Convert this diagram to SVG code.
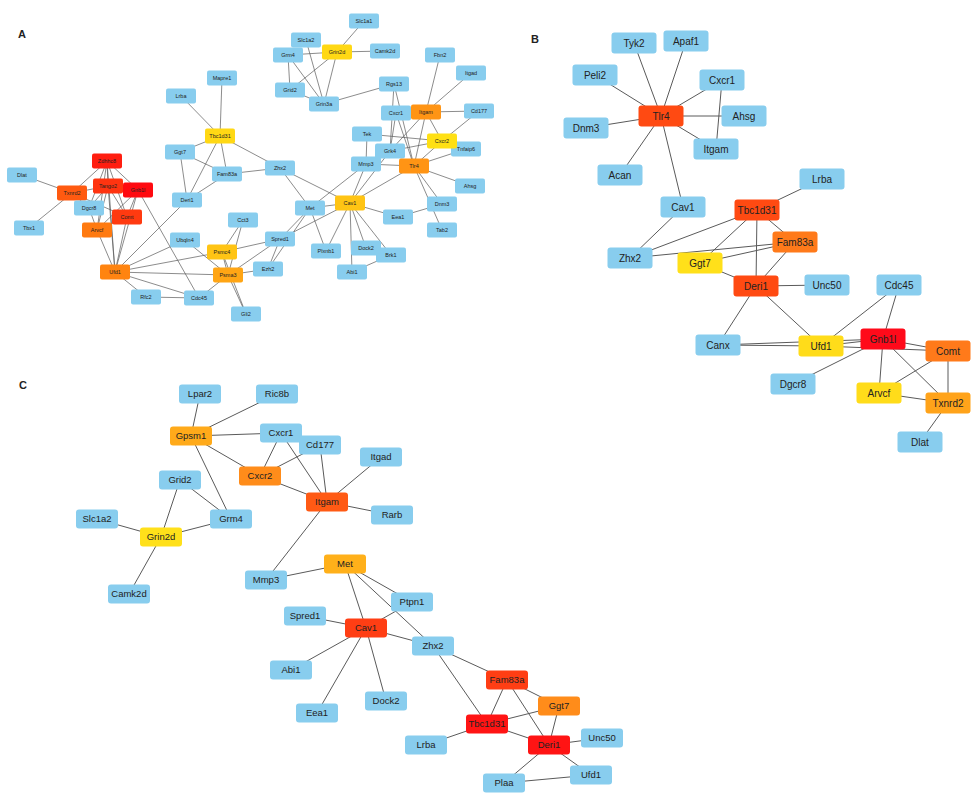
<svg xmlns="http://www.w3.org/2000/svg" width="977" height="795" viewBox="0 0 977 795">
<style>
text{font-family:"Liberation Sans",Arial,sans-serif;fill:#222;text-anchor:middle}
.lbl{font-weight:bold;font-size:11px;text-anchor:start}
.ta{font-size:5.5px}.tb{font-size:10px}.tc{font-size:9.5px}
.e line{stroke:#5a5a5a;stroke-width:1}
.ea line{stroke:#5a5a5a;stroke-width:0.7}
.bl{fill:#88CDEE}
</style>
<rect width="977" height="795" fill="#fff"/>
<text class="lbl" x="18" y="38">A</text>
<text class="lbl" x="531" y="43">B</text>
<text class="lbl" x="19" y="389">C</text>

<!-- Panel A connectors -->
<g id="edges-a" class="ea">
<line x1="364" y1="21" x2="337" y2="52"/><line x1="337" y1="52" x2="288" y2="55"/><line x1="337" y1="52" x2="385" y2="51"/>
<line x1="337" y1="52" x2="290" y2="90"/><line x1="337" y1="52" x2="324" y2="104"/><line x1="306" y1="40" x2="324" y2="104"/>
<line x1="288" y1="55" x2="324" y2="104"/><line x1="288" y1="55" x2="290" y2="90"/><line x1="290" y1="90" x2="324" y2="104"/>
<line x1="324" y1="104" x2="394" y2="84"/><line x1="394" y1="84" x2="390" y2="151"/><line x1="394" y1="84" x2="414" y2="166"/>
<line x1="440" y1="55" x2="426" y2="112"/><line x1="471" y1="73" x2="426" y2="112"/><line x1="426" y1="112" x2="479" y2="111"/>
<line x1="426" y1="112" x2="442" y2="141"/><line x1="426" y1="112" x2="390" y2="151"/><line x1="426" y1="112" x2="414" y2="166"/>
<line x1="479" y1="111" x2="442" y2="141"/><line x1="396" y1="113" x2="414" y2="166"/><line x1="396" y1="113" x2="390" y2="151"/>
<line x1="396" y1="113" x2="426" y2="112"/><line x1="367" y1="134" x2="366" y2="164"/><line x1="367" y1="134" x2="442" y2="141"/>
<line x1="390" y1="151" x2="442" y2="141"/><line x1="442" y1="141" x2="414" y2="166"/><line x1="466" y1="149" x2="414" y2="166"/>
<line x1="366" y1="164" x2="414" y2="166"/><line x1="366" y1="164" x2="350" y2="203"/><line x1="390" y1="151" x2="350" y2="203"/>
<line x1="414" y1="166" x2="350" y2="203"/><line x1="414" y1="166" x2="470" y2="186"/><line x1="414" y1="166" x2="442" y2="204"/>
<line x1="414" y1="166" x2="442" y2="230"/><line x1="442" y1="204" x2="398" y2="217"/><line x1="350" y1="203" x2="398" y2="217"/>
<line x1="350" y1="203" x2="310" y2="208"/><line x1="350" y1="203" x2="280" y2="168"/><line x1="350" y1="203" x2="280" y2="239"/>
<line x1="350" y1="203" x2="326" y2="251"/><line x1="350" y1="203" x2="352" y2="272"/><line x1="350" y1="203" x2="366" y2="248"/>
<line x1="350" y1="203" x2="391" y2="255"/><line x1="352" y1="272" x2="391" y2="255"/><line x1="310" y1="208" x2="280" y2="168"/>
<line x1="310" y1="208" x2="366" y2="164"/><line x1="310" y1="208" x2="280" y2="239"/><line x1="310" y1="208" x2="326" y2="251"/>
<line x1="310" y1="208" x2="268" y2="269"/><line x1="280" y1="239" x2="268" y2="269"/><line x1="280" y1="239" x2="222" y2="252"/>
<line x1="280" y1="239" x2="228" y2="275"/><line x1="243" y1="220" x2="222" y2="252"/><line x1="243" y1="220" x2="228" y2="275"/>
<line x1="268" y1="269" x2="228" y2="275"/><line x1="222" y1="252" x2="228" y2="275"/><line x1="228" y1="275" x2="246" y2="314"/>
<line x1="222" y1="252" x2="246" y2="314"/><line x1="185" y1="240" x2="228" y2="275"/><line x1="185" y1="240" x2="115" y2="272"/>
<line x1="115" y1="272" x2="222" y2="252"/><line x1="115" y1="272" x2="228" y2="275"/><line x1="115" y1="272" x2="146" y2="297"/>
<line x1="115" y1="272" x2="199" y2="298"/><line x1="146" y1="297" x2="199" y2="298"/><line x1="199" y1="298" x2="228" y2="275"/>
<line x1="115" y1="272" x2="187" y2="200"/><line x1="115" y1="272" x2="127" y2="217"/><line x1="115" y1="272" x2="108" y2="186"/>
<line x1="115" y1="272" x2="107" y2="161"/><line x1="115" y1="272" x2="138" y2="190"/><line x1="115" y1="272" x2="97" y2="230"/>
<line x1="138" y1="190" x2="199" y2="298"/><line x1="107" y1="161" x2="72" y2="193"/><line x1="107" y1="161" x2="108" y2="186"/>
<line x1="107" y1="161" x2="138" y2="190"/><line x1="107" y1="161" x2="89" y2="208"/><line x1="107" y1="161" x2="127" y2="217"/>
<line x1="107" y1="161" x2="97" y2="230"/><line x1="108" y1="186" x2="72" y2="193"/><line x1="108" y1="186" x2="138" y2="190"/>
<line x1="108" y1="186" x2="127" y2="217"/><line x1="108" y1="186" x2="97" y2="230"/><line x1="108" y1="186" x2="89" y2="208"/>
<line x1="138" y1="190" x2="127" y2="217"/><line x1="138" y1="190" x2="97" y2="230"/><line x1="72" y1="193" x2="22" y2="175"/>
<line x1="72" y1="193" x2="29" y2="228"/><line x1="72" y1="193" x2="89" y2="208"/><line x1="72" y1="193" x2="127" y2="217"/>
<line x1="89" y1="208" x2="97" y2="230"/><line x1="127" y1="217" x2="97" y2="230"/><line x1="187" y1="200" x2="180" y2="152"/>
<line x1="187" y1="200" x2="220" y2="136"/><line x1="187" y1="200" x2="227" y2="174"/><line x1="180" y1="152" x2="220" y2="136"/>
<line x1="180" y1="152" x2="227" y2="174"/><line x1="220" y1="136" x2="227" y2="174"/><line x1="220" y1="136" x2="280" y2="168"/>
<line x1="227" y1="174" x2="280" y2="168"/><line x1="220" y1="136" x2="222" y2="78"/><line x1="220" y1="136" x2="181" y2="96"/>
</g>

<!-- Panel B connectors -->
<g id="edges-b" class="e">
<line x1="661" y1="116" x2="634" y2="43"/><line x1="661" y1="116" x2="686" y2="41"/><line x1="661" y1="116" x2="595" y2="75"/>
<line x1="661" y1="116" x2="722" y2="80"/><line x1="661" y1="116" x2="744" y2="116"/><line x1="661" y1="116" x2="586" y2="128"/>
<line x1="661" y1="116" x2="716" y2="149"/><line x1="661" y1="116" x2="620" y2="175"/><line x1="661" y1="116" x2="683" y2="207"/>
<line x1="722" y1="80" x2="716" y2="149"/><line x1="683" y1="207" x2="630" y2="258"/><line x1="822" y1="179" x2="757" y2="210"/>
<line x1="757" y1="210" x2="630" y2="258"/><line x1="757" y1="210" x2="700" y2="263"/><line x1="757" y1="210" x2="795" y2="242"/>
<line x1="757" y1="210" x2="756" y2="286"/><line x1="795" y1="242" x2="630" y2="258"/><line x1="795" y1="242" x2="700" y2="263"/>
<line x1="795" y1="242" x2="756" y2="286"/><line x1="700" y1="263" x2="756" y2="286"/><line x1="756" y1="286" x2="827" y2="285"/>
<line x1="756" y1="286" x2="718" y2="345"/><line x1="756" y1="286" x2="821" y2="346"/><line x1="718" y1="345" x2="821" y2="346"/>
<line x1="718" y1="345" x2="883" y2="339"/><line x1="821" y1="346" x2="883" y2="339"/><line x1="821" y1="346" x2="948" y2="351"/>
<line x1="899" y1="285" x2="821" y2="346"/><line x1="899" y1="285" x2="883" y2="339"/><line x1="793" y1="384" x2="883" y2="339"/>
<line x1="883" y1="339" x2="948" y2="351"/><line x1="883" y1="339" x2="879" y2="393"/><line x1="883" y1="339" x2="948" y2="403"/>
<line x1="948" y1="351" x2="879" y2="393"/><line x1="948" y1="351" x2="948" y2="403"/><line x1="879" y1="393" x2="948" y2="403"/>
<line x1="948" y1="403" x2="920" y2="442"/>
</g>

<!-- Panel C connectors -->
<g id="edges-c" class="e">
<line x1="200" y1="394" x2="191" y2="436"/><line x1="277" y1="394" x2="191" y2="436"/><line x1="191" y1="436" x2="281" y2="433"/>
<line x1="191" y1="436" x2="260" y2="476"/><line x1="191" y1="436" x2="231" y2="519"/><line x1="281" y1="433" x2="260" y2="476"/>
<line x1="281" y1="433" x2="327" y2="502"/><line x1="320" y1="445" x2="260" y2="476"/><line x1="320" y1="445" x2="327" y2="502"/>
<line x1="381" y1="457" x2="327" y2="502"/><line x1="260" y1="476" x2="327" y2="502"/><line x1="327" y1="502" x2="392" y2="515"/>
<line x1="327" y1="502" x2="266" y2="580"/><line x1="180" y1="480" x2="161" y2="537"/><line x1="180" y1="480" x2="231" y2="519"/>
<line x1="97" y1="519" x2="161" y2="537"/><line x1="231" y1="519" x2="161" y2="537"/><line x1="161" y1="537" x2="129" y2="594"/>
<line x1="345" y1="564" x2="266" y2="580"/><line x1="345" y1="564" x2="366" y2="628"/><line x1="345" y1="564" x2="412" y2="602"/>
<line x1="345" y1="564" x2="433" y2="646"/><line x1="412" y1="602" x2="366" y2="628"/><line x1="305" y1="616" x2="366" y2="628"/>
<line x1="366" y1="628" x2="433" y2="646"/><line x1="366" y1="628" x2="291" y2="670"/><line x1="366" y1="628" x2="317" y2="713"/>
<line x1="366" y1="628" x2="386" y2="701"/><line x1="433" y1="646" x2="507" y2="680"/><line x1="433" y1="646" x2="487" y2="724"/>
<line x1="507" y1="680" x2="487" y2="724"/><line x1="507" y1="680" x2="559" y2="706"/><line x1="507" y1="680" x2="549" y2="745"/>
<line x1="559" y1="706" x2="487" y2="724"/><line x1="559" y1="706" x2="549" y2="745"/><line x1="487" y1="724" x2="426" y2="745"/>
<line x1="487" y1="724" x2="549" y2="745"/><line x1="549" y1="745" x2="602" y2="738"/><line x1="549" y1="745" x2="504" y2="783"/>
<line x1="549" y1="745" x2="591" y2="775"/><line x1="504" y1="783" x2="591" y2="775"/>
</g>

<!-- Panel A nodes (30x15) -->
<g id="a-Dlat"><rect class="bl" x="7" y="167.5" width="30" height="15" rx="2"/><text class="ta" x="22" y="177">Dlat</text></g>
<g id="a-Tbx1"><rect class="bl" x="14" y="220.5" width="30" height="15" rx="2"/><text class="ta" x="29" y="230">Tbx1</text></g>
<g id="a-Txnrd2"><rect fill="#FF5A10" x="57" y="185.5" width="30" height="15" rx="2"/><text class="ta" x="72" y="195">Txnrd2</text></g>
<g id="a-Dgcr8"><rect class="bl" x="74" y="200.5" width="30" height="15" rx="2"/><text class="ta" x="89" y="210">Dgcr8</text></g>
<g id="a-Arvcf"><rect fill="#FF7A10" x="82" y="222.5" width="30" height="15" rx="2"/><text class="ta" x="97" y="232">Arvcf</text></g>
<g id="a-Comt"><rect fill="#FF3A10" x="112" y="209.5" width="30" height="15" rx="2"/><text class="ta" x="127" y="219">Comt</text></g>
<g id="a-Zdhhc8"><rect fill="#FF1E10" x="92" y="153.5" width="30" height="15" rx="2"/><text class="ta" x="107" y="163">Zdhhc8</text></g>
<g id="a-Gnb1l"><rect fill="#FF0A10" x="123" y="182.5" width="30" height="15" rx="2"/><text class="ta" x="138" y="192">Gnb1l</text></g>
<g id="a-Tango2"><rect fill="#FF3410" x="93" y="178.5" width="30" height="15" rx="2"/><text class="ta" x="108" y="188">Tango2</text></g>
<g id="a-Ufd1"><rect fill="#FF8410" x="100" y="264.5" width="30" height="15" rx="2"/><text class="ta" x="115" y="274">Ufd1</text></g>
<g id="a-Rfc2"><rect class="bl" x="131" y="289.5" width="30" height="15" rx="2"/><text class="ta" x="146" y="299">Rfc2</text></g>
<g id="a-Cdc45"><rect class="bl" x="184" y="290.5" width="30" height="15" rx="2"/><text class="ta" x="199" y="300">Cdc45</text></g>
<g id="a-Ubqln4"><rect class="bl" x="170" y="232.5" width="30" height="15" rx="2"/><text class="ta" x="185" y="242">Ubqln4</text></g>
<g id="a-Psmc4"><rect fill="#FFC414" x="207" y="244.5" width="30" height="15" rx="2"/><text class="ta" x="222" y="254">Psmc4</text></g>
<g id="a-Psma3"><rect fill="#FFA514" x="213" y="267.5" width="30" height="15" rx="2"/><text class="ta" x="228" y="277">Psma3</text></g>
<g id="a-Cct3"><rect class="bl" x="228" y="212.5" width="30" height="15" rx="2"/><text class="ta" x="243" y="222">Cct3</text></g>
<g id="a-Spred1"><rect class="bl" x="265" y="231.5" width="30" height="15" rx="2"/><text class="ta" x="280" y="241">Spred1</text></g>
<g id="a-Ezh2"><rect class="bl" x="253" y="261.5" width="30" height="15" rx="2"/><text class="ta" x="268" y="271">Ezh2</text></g>
<g id="a-Gli2"><rect class="bl" x="231" y="306.5" width="30" height="15" rx="2"/><text class="ta" x="246" y="316">Gli2</text></g>
<g id="a-Deri1"><rect class="bl" x="172" y="192.5" width="30" height="15" rx="2"/><text class="ta" x="187" y="202">Deri1</text></g>
<g id="a-Ggt7"><rect class="bl" x="165" y="144.5" width="30" height="15" rx="2"/><text class="ta" x="180" y="154">Ggt7</text></g>
<g id="a-Fam83a"><rect class="bl" x="212" y="166.5" width="30" height="15" rx="2"/><text class="ta" x="227" y="176">Fam83a</text></g>
<g id="a-Tbc1d31"><rect fill="#FFD814" x="205" y="128.5" width="30" height="15" rx="2"/><text class="ta" x="220" y="138">Tbc1d31</text></g>
<g id="a-Lrba"><rect class="bl" x="166" y="88.5" width="30" height="15" rx="2"/><text class="ta" x="181" y="98">Lrba</text></g>
<g id="a-Mapre1"><rect class="bl" x="207" y="70.5" width="30" height="15" rx="2"/><text class="ta" x="222" y="80">Mapre1</text></g>
<g id="a-Zhx2"><rect class="bl" x="265" y="160.5" width="30" height="15" rx="2"/><text class="ta" x="280" y="170">Zhx2</text></g>
<g id="a-Met"><rect class="bl" x="295" y="200.5" width="30" height="15" rx="2"/><text class="ta" x="310" y="210">Met</text></g>
<g id="a-Plxnb1"><rect class="bl" x="311" y="243.5" width="30" height="15" rx="2"/><text class="ta" x="326" y="253">Plxnb1</text></g>
<g id="a-Abi1"><rect class="bl" x="337" y="264.5" width="30" height="15" rx="2"/><text class="ta" x="352" y="274">Abi1</text></g>
<g id="a-Dock2"><rect class="bl" x="351" y="240.5" width="30" height="15" rx="2"/><text class="ta" x="366" y="250">Dock2</text></g>
<g id="a-Brk1"><rect class="bl" x="376" y="247.5" width="30" height="15" rx="2"/><text class="ta" x="391" y="257">Brk1</text></g>
<g id="a-Cav1"><rect fill="#FFC414" x="335" y="195.5" width="30" height="15" rx="2"/><text class="ta" x="350" y="205">Cav1</text></g>
<g id="a-Eea1"><rect class="bl" x="383" y="209.5" width="30" height="15" rx="2"/><text class="ta" x="398" y="219">Eea1</text></g>
<g id="a-Dnm3"><rect class="bl" x="427" y="196.5" width="30" height="15" rx="2"/><text class="ta" x="442" y="206">Dnm3</text></g>
<g id="a-Tab2"><rect class="bl" x="427" y="222.5" width="30" height="15" rx="2"/><text class="ta" x="442" y="232">Tab2</text></g>
<g id="a-Ahsg"><rect class="bl" x="455" y="178.5" width="30" height="15" rx="2"/><text class="ta" x="470" y="188">Ahsg</text></g>
<g id="a-Mmp3"><rect class="bl" x="351" y="156.5" width="30" height="15" rx="2"/><text class="ta" x="366" y="166">Mmp3</text></g>
<g id="a-Tek"><rect class="bl" x="352" y="126.5" width="30" height="15" rx="2"/><text class="ta" x="367" y="136">Tek</text></g>
<g id="a-Grk4"><rect class="bl" x="375" y="143.5" width="30" height="15" rx="2"/><text class="ta" x="390" y="153">Grk4</text></g>
<g id="a-Tlr4"><rect fill="#FF9414" x="399" y="158.5" width="30" height="15" rx="2"/><text class="ta" x="414" y="168">Tlr4</text></g>
<g id="a-Cxcr1"><rect class="bl" x="381" y="105.5" width="30" height="15" rx="2"/><text class="ta" x="396" y="115">Cxcr1</text></g>
<g id="a-Itgam"><rect fill="#FF9414" x="411" y="104.5" width="30" height="15" rx="2"/><text class="ta" x="426" y="114">Itgam</text></g>
<g id="a-Tnfaip6"><rect class="bl" x="451" y="141.5" width="30" height="15" rx="2"/><text class="ta" x="466" y="151">Tnfaip6</text></g>
<g id="a-Cxcr2"><rect fill="#FFE014" x="427" y="133.5" width="30" height="15" rx="2"/><text class="ta" x="442" y="143">Cxcr2</text></g>
<g id="a-Cd177"><rect class="bl" x="464" y="103.5" width="30" height="15" rx="2"/><text class="ta" x="479" y="113">Cd177</text></g>
<g id="a-Itgad"><rect class="bl" x="456" y="65.5" width="30" height="15" rx="2"/><text class="ta" x="471" y="75">Itgad</text></g>
<g id="a-Fbn2"><rect class="bl" x="425" y="47.5" width="30" height="15" rx="2"/><text class="ta" x="440" y="57">Fbn2</text></g>
<g id="a-Rgs13"><rect class="bl" x="379" y="76.5" width="30" height="15" rx="2"/><text class="ta" x="394" y="86">Rgs13</text></g>
<g id="a-Grin3a"><rect class="bl" x="309" y="96.5" width="30" height="15" rx="2"/><text class="ta" x="324" y="106">Grin3a</text></g>
<g id="a-Grid2"><rect class="bl" x="275" y="82.5" width="30" height="15" rx="2"/><text class="ta" x="290" y="92">Grid2</text></g>
<g id="a-Slc1a2"><rect class="bl" x="291" y="32.5" width="30" height="15" rx="2"/><text class="ta" x="306" y="42">Slc1a2</text></g>
<g id="a-Grm4"><rect class="bl" x="273" y="47.5" width="30" height="15" rx="2"/><text class="ta" x="288" y="57">Grm4</text></g>
<g id="a-Grin2d"><rect fill="#FFD814" x="322" y="44.5" width="30" height="15" rx="2"/><text class="ta" x="337" y="54">Grin2d</text></g>
<g id="a-Camk2d"><rect class="bl" x="370" y="43.5" width="30" height="15" rx="2"/><text class="ta" x="385" y="53">Camk2d</text></g>
<g id="a-Slc1a1"><rect class="bl" x="349" y="13.5" width="30" height="15" rx="2"/><text class="ta" x="364" y="23">Slc1a1</text></g>

<!-- Panel B nodes (45x21) -->
<g id="b-Tyk2"><rect class="bl" x="611.5" y="32.5" width="45" height="21" rx="3"/><text class="tb" x="634" y="46.5">Tyk2</text></g>
<g id="b-Apaf1"><rect class="bl" x="663.5" y="30.5" width="45" height="21" rx="3"/><text class="tb" x="686" y="44.5">Apaf1</text></g>
<g id="b-Peli2"><rect class="bl" x="572.5" y="64.5" width="45" height="21" rx="3"/><text class="tb" x="595" y="78.5">Peli2</text></g>
<g id="b-Cxcr1"><rect class="bl" x="699.5" y="69.5" width="45" height="21" rx="3"/><text class="tb" x="722" y="83.5">Cxcr1</text></g>
<g id="b-Tlr4"><rect fill="#FF4A12" x="638.5" y="105.5" width="45" height="21" rx="3"/><text class="tb" x="661" y="119.5">Tlr4</text></g>
<g id="b-Ahsg"><rect class="bl" x="721.5" y="105.5" width="45" height="21" rx="3"/><text class="tb" x="744" y="119.5">Ahsg</text></g>
<g id="b-Dnm3"><rect class="bl" x="563.5" y="117.5" width="45" height="21" rx="3"/><text class="tb" x="586" y="131.5">Dnm3</text></g>
<g id="b-Itgam"><rect class="bl" x="693.5" y="138.5" width="45" height="21" rx="3"/><text class="tb" x="716" y="152.5">Itgam</text></g>
<g id="b-Acan"><rect class="bl" x="597.5" y="164.5" width="45" height="21" rx="3"/><text class="tb" x="620" y="178.5">Acan</text></g>
<g id="b-Lrba"><rect class="bl" x="799.5" y="168.5" width="45" height="21" rx="3"/><text class="tb" x="822" y="182.5">Lrba</text></g>
<g id="b-Cav1"><rect class="bl" x="660.5" y="196.5" width="45" height="21" rx="3"/><text class="tb" x="683" y="210.5">Cav1</text></g>
<g id="b-Tbc1d31"><rect fill="#FF4A12" x="734.5" y="199.5" width="45" height="21" rx="3"/><text class="tb" x="757" y="213.5">Tbc1d31</text></g>
<g id="b-Fam83a"><rect fill="#FF7A1A" x="772.5" y="231.5" width="45" height="21" rx="3"/><text class="tb" x="795" y="245.5">Fam83a</text></g>
<g id="b-Zhx2"><rect class="bl" x="607.5" y="247.5" width="45" height="21" rx="3"/><text class="tb" x="630" y="261.5">Zhx2</text></g>
<g id="b-Ggt7"><rect fill="#FFE01A" x="677.5" y="252.5" width="45" height="21" rx="3"/><text class="tb" x="700" y="266.5">Ggt7</text></g>
<g id="b-Deri1"><rect fill="#FF4A12" x="733.5" y="275.5" width="45" height="21" rx="3"/><text class="tb" x="756" y="289.5">Deri1</text></g>
<g id="b-Unc50"><rect class="bl" x="804.5" y="274.5" width="45" height="21" rx="3"/><text class="tb" x="827" y="288.5">Unc50</text></g>
<g id="b-Cdc45"><rect class="bl" x="876.5" y="274.5" width="45" height="21" rx="3"/><text class="tb" x="899" y="288.5">Cdc45</text></g>
<g id="b-Canx"><rect class="bl" x="695.5" y="334.5" width="45" height="21" rx="3"/><text class="tb" x="718" y="348.5">Canx</text></g>
<g id="b-Ufd1"><rect fill="#FFDC1A" x="798.5" y="335.5" width="45" height="21" rx="3"/><text class="tb" x="821" y="349.5">Ufd1</text></g>
<g id="b-Gnb1l"><rect fill="#FF0A1A" x="860.5" y="328.5" width="45" height="21" rx="3"/><text class="tb" x="883" y="342.5">Gnb1l</text></g>
<g id="b-Comt"><rect fill="#FF7A1A" x="925.5" y="340.5" width="45" height="21" rx="3"/><text class="tb" x="948" y="354.5">Comt</text></g>
<g id="b-Dgcr8"><rect class="bl" x="770.5" y="373.5" width="45" height="21" rx="3"/><text class="tb" x="793" y="387.5">Dgcr8</text></g>
<g id="b-Arvcf"><rect fill="#FFDC1A" x="856.5" y="382.5" width="45" height="21" rx="3"/><text class="tb" x="879" y="396.5">Arvcf</text></g>
<g id="b-Txnrd2"><rect fill="#FFA31A" x="925.5" y="392.5" width="45" height="21" rx="3"/><text class="tb" x="948" y="406.5">Txnrd2</text></g>
<g id="b-Dlat"><rect class="bl" x="897.5" y="431.5" width="45" height="21" rx="3"/><text class="tb" x="920" y="445.5">Dlat</text></g>

<!-- Panel C nodes (42x19) -->
<g id="c-Lpar2"><rect class="bl" x="179" y="384.5" width="42" height="19" rx="3"/><text class="tc" x="200" y="397.3">Lpar2</text></g>
<g id="c-Ric8b"><rect class="bl" x="256" y="384.5" width="42" height="19" rx="3"/><text class="tc" x="277" y="397.3">Ric8b</text></g>
<g id="c-Gpsm1"><rect fill="#FFAA1A" x="170" y="426.5" width="42" height="19" rx="3"/><text class="tc" x="191" y="439.3">Gpsm1</text></g>
<g id="c-Cxcr1"><rect class="bl" x="260" y="423.5" width="42" height="19" rx="3"/><text class="tc" x="281" y="436.3">Cxcr1</text></g>
<g id="c-Cd177"><rect class="bl" x="299" y="435.5" width="42" height="19" rx="3"/><text class="tc" x="320" y="448.3">Cd177</text></g>
<g id="c-Itgad"><rect class="bl" x="360" y="447.5" width="42" height="19" rx="3"/><text class="tc" x="381" y="460.3">Itgad</text></g>
<g id="c-Cxcr2"><rect fill="#FF8C1A" x="239" y="466.5" width="42" height="19" rx="3"/><text class="tc" x="260" y="479.3">Cxcr2</text></g>
<g id="c-Grid2"><rect class="bl" x="159" y="470.5" width="42" height="19" rx="3"/><text class="tc" x="180" y="483.3">Grid2</text></g>
<g id="c-Itgam"><rect fill="#FF5A14" x="306" y="492.5" width="42" height="19" rx="3"/><text class="tc" x="327" y="505.3">Itgam</text></g>
<g id="c-Rarb"><rect class="bl" x="371" y="505.5" width="42" height="19" rx="3"/><text class="tc" x="392" y="518.3">Rarb</text></g>
<g id="c-Slc1a2"><rect class="bl" x="76" y="509.5" width="42" height="19" rx="3"/><text class="tc" x="97" y="522.3">Slc1a2</text></g>
<g id="c-Grm4"><rect class="bl" x="210" y="509.5" width="42" height="19" rx="3"/><text class="tc" x="231" y="522.3">Grm4</text></g>
<g id="c-Grin2d"><rect fill="#FFE01A" x="140" y="527.5" width="42" height="19" rx="3"/><text class="tc" x="161" y="540.3">Grin2d</text></g>
<g id="c-Camk2d"><rect class="bl" x="108" y="584.5" width="42" height="19" rx="3"/><text class="tc" x="129" y="597.3">Camk2d</text></g>
<g id="c-Met"><rect fill="#FFB01A" x="324" y="554.5" width="42" height="19" rx="3"/><text class="tc" x="345" y="567.3">Met</text></g>
<g id="c-Mmp3"><rect class="bl" x="245" y="570.5" width="42" height="19" rx="3"/><text class="tc" x="266" y="583.3">Mmp3</text></g>
<g id="c-Ptpn1"><rect class="bl" x="391" y="592.5" width="42" height="19" rx="3"/><text class="tc" x="412" y="605.3">Ptpn1</text></g>
<g id="c-Spred1"><rect class="bl" x="284" y="606.5" width="42" height="19" rx="3"/><text class="tc" x="305" y="619.3">Spred1</text></g>
<g id="c-Cav1"><rect fill="#FF3E14" x="345" y="618.5" width="42" height="19" rx="3"/><text class="tc" x="366" y="631.3">Cav1</text></g>
<g id="c-Zhx2"><rect class="bl" x="412" y="636.5" width="42" height="19" rx="3"/><text class="tc" x="433" y="649.3">Zhx2</text></g>
<g id="c-Abi1"><rect class="bl" x="270" y="660.5" width="42" height="19" rx="3"/><text class="tc" x="291" y="673.3">Abi1</text></g>
<g id="c-Fam83a"><rect fill="#FF3E14" x="486" y="670.5" width="42" height="19" rx="3"/><text class="tc" x="507" y="683.3">Fam83a</text></g>
<g id="c-Dock2"><rect class="bl" x="365" y="691.5" width="42" height="19" rx="3"/><text class="tc" x="386" y="704.3">Dock2</text></g>
<g id="c-Ggt7"><rect fill="#FF8C1A" x="538" y="696.5" width="42" height="19" rx="3"/><text class="tc" x="559" y="709.3">Ggt7</text></g>
<g id="c-Eea1"><rect class="bl" x="296" y="703.5" width="42" height="19" rx="3"/><text class="tc" x="317" y="716.3">Eea1</text></g>
<g id="c-Tbc1d31"><rect fill="#FF1414" x="466" y="714.5" width="42" height="19" rx="3"/><text class="tc" x="487" y="727.3">Tbc1d31</text></g>
<g id="c-Unc50"><rect class="bl" x="581" y="728.5" width="42" height="19" rx="3"/><text class="tc" x="602" y="741.3">Unc50</text></g>
<g id="c-Lrba"><rect class="bl" x="405" y="735.5" width="42" height="19" rx="3"/><text class="tc" x="426" y="748.3">Lrba</text></g>
<g id="c-Deri1"><rect fill="#FF1414" x="528" y="735.5" width="42" height="19" rx="3"/><text class="tc" x="549" y="748.3">Deri1</text></g>
<g id="c-Ufd1"><rect class="bl" x="570" y="765.5" width="42" height="19" rx="3"/><text class="tc" x="591" y="778.3">Ufd1</text></g>
<g id="c-Plaa"><rect class="bl" x="483" y="773.5" width="42" height="19" rx="3"/><text class="tc" x="504" y="786.3">Plaa</text></g>
</svg>
